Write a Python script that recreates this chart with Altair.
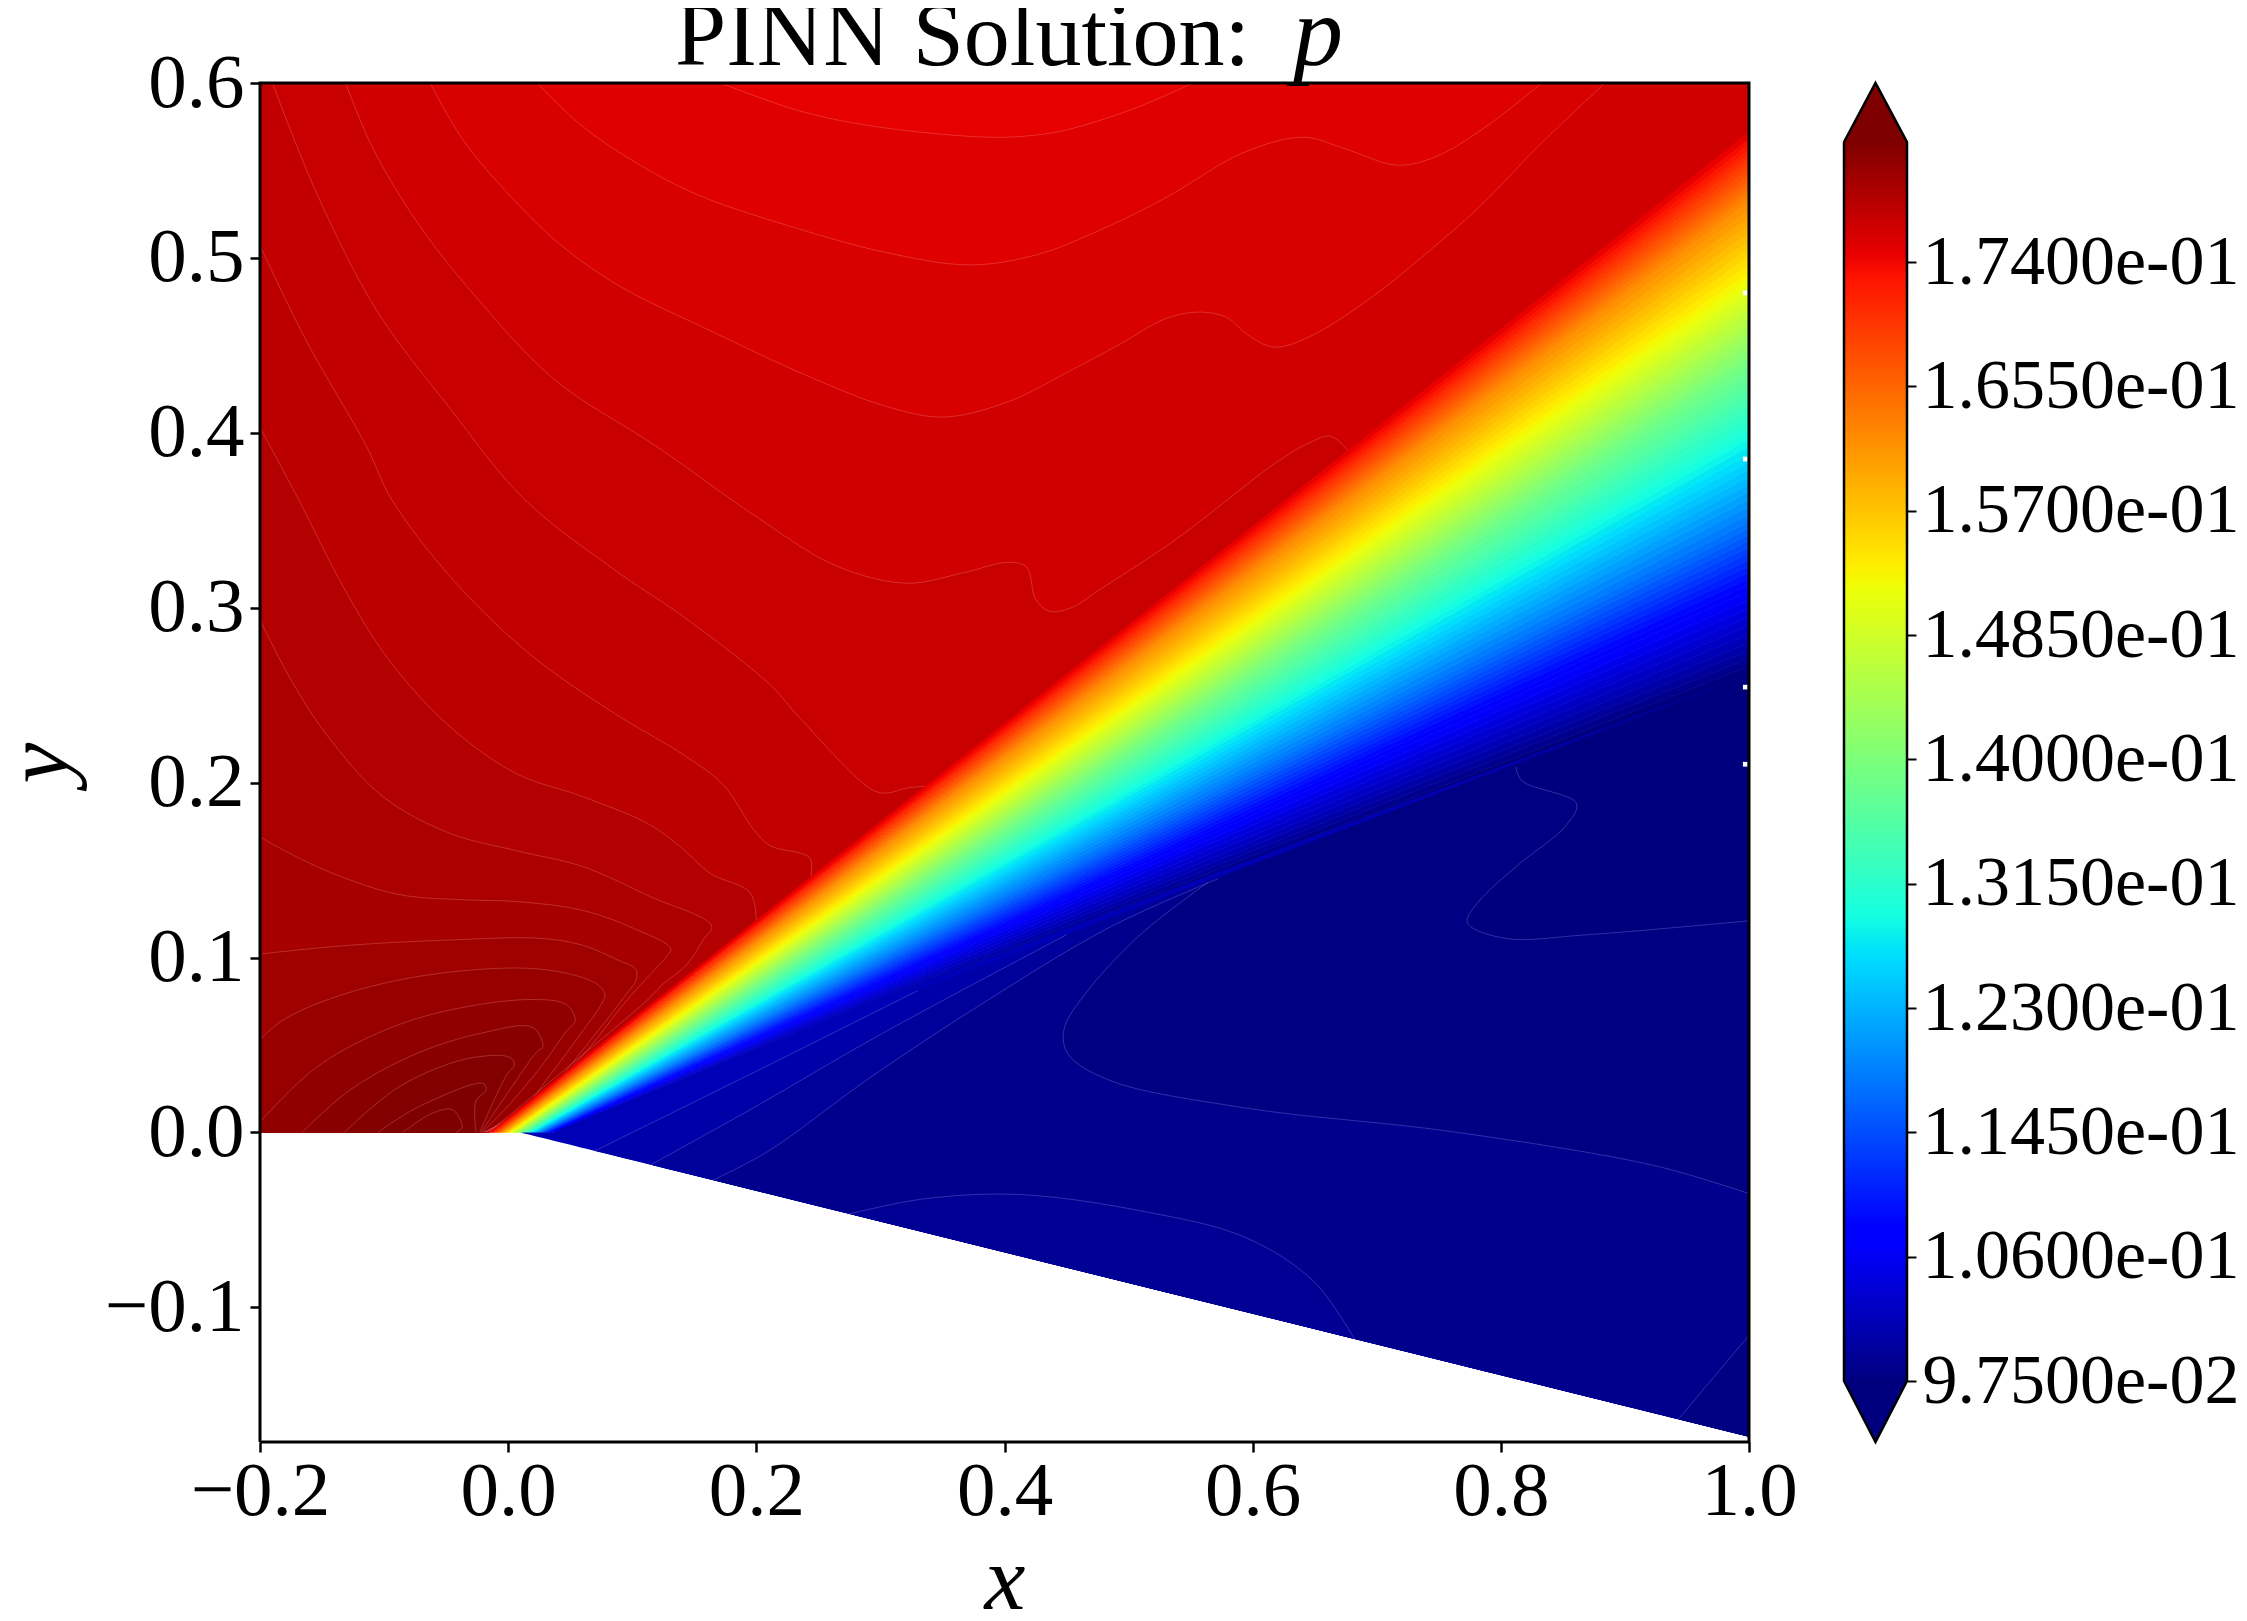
import altair as alt
import pandas as pd

XDOM = [-0.2, 1.0]
YDOM = [-0.177, 0.6]
CB_DOM = [0.09333, 0.18624]
CB_LOW, CB_HIGH = 0.0975, 0.1822
FONT = "Liberation Serif"
PW, PH = 1489, 1359
X_TICKS = [-0.2, 0.0, 0.2, 0.4, 0.6, 0.8, 1.0]
Y_TICKS = [-0.1, 0.0, 0.1, 0.2, 0.3, 0.4, 0.5, 0.6]
CB_TICKS = [0.0975, 0.106, 0.1145, 0.123, 0.1315, 0.14, 0.1485, 0.157, 0.1655, 0.174]

JET_T = [0, .11, .125, .34, .35, .375, .64, .65, .66, .89, .91, 1]
JET_C = ["#00007f", "#0000ff", "#0000ff", "#00dbff", "#00e5f7", "#14ffe2",
         "#eeff08", "#f7f600", "#ffec00", "#ff1300", "#e80000", "#7f0000"]
JET_P = [CB_LOW + t * (CB_HIGH - CB_LOW) for t in JET_T]

# upper region: iso-contours, brightest to darkest
TOP_CLOSE = [(1, .6), (1, .56), (-.015, 0), (-.2, 0), (-.2, .6)]
RAY_CLOSE = [(-.015, 0), (-.2, 0), (-.2, .6)]
FOOT_CLOSE = [(-.015, 0), (-.2, 0)]
LEFT_CLOSE = [(-.2, 0)]

BASE_UP = [(-.2, .6), (1, .6), (1, .56), (-.015, 0), (-.2, 0)]
C1 = [(.171, .6), (.235, .584), (.297, .575), (.387, .569), (.422, .570), (.449, .573), (.503, .585), (.552, .6)]
C2 = [(.0235, .6), (.0585, .576), (.104, .554), (.153, .536), (.223, .519), (.305, .503), (.373, .496), (.427, .502),
      (.471, .514), (.529, .534), (.592, .560), (.641, .569), (.672, .563), (.717, .553), (.748, .558), (.788, .575), (.833, .6)]
C3 = [(-.063, .6), (-.036, .567), (-.003, .539), (.038, .510), (.087, .485), (.161, .459), (.243, .432), (.305, .415),
      (.351, .409), (.404, .418), (.449, .434), (.494, .451), (.529, .465), (.556, .469), (.579, .466), (.596, .456),
      (.617, .449), (.646, .455), (.695, .477), (.739, .502), (.784, .530), (.829, .563), (.884, .6)]
C4 = [(-.131, .6), (-.110, .564), (-.073, .520), (-.024, .476), (.038, .430), (.120, .392), (.202, .351), (.264, .324),
      (.321, .314), (.367, .320), (.404, .326), (.418, .323), (.425, .305), (.436, .298), (.454, .300), (.476, .310),
      (.538, .339), (.619, .383), (.645, .394), (.663, .398), (.68, .387)]
C5 = [(-.190, .6), (-.155, .538), (-.106, .470), (-.048, .415), (.013, .362), (.087, .321), (.141, .295), (.211, .256),
      (.235, .237), (.293, .196), (.305, .194), (.322, .197), (.34, .198)]
LA = [(-.2, .507), (-.163, .453), (-.114, .392), (-.094, .362), (-.042, .314), (.020, .272), (.087, .239), (.141, .216),
      (.173, .199), (.198, .173), (.211, .164), (.243, .157), (.245, .146), (.25, .147)]
LB = [(-.2, .403), (-.169, .362), (-.133, .312), (-.096, .270), (-.047, .232), (.007, .205), (.060, .192), (.114, .176),
      (.141, .162), (.163, .148), (.195, .137), (.2, .12)]
LC = [(-.2, .293), (-.176, .260), (-.147, .228), (-.101, .192), (-.047, .171), (.007, .161), (.060, .152), (.114, .135),
      (.164, .118), (.157, .110), (.144, .096), (.125, .085), (.111, .075), (-.016, 0)]
LD = [(-.2, .169), (-.18, .161), (-.141, .148), (-.088, .136), (-.036, .133), (.007, .132), (.060, .127), (.100, .117),
      (.131, .105), (.127, .100), (.114, .090), (.095, .075), (.06, .044), (.02, .016), (-.018, 0)]
LE = [(-.2, .102), (-.128, .107), (-.047, .110), (.025, .111), (.060, .107), (.087, .099), (.103, .093), (.103, .087),
      (.095, .079), (.07, .056), (.03, .023), (-.019, 0)]
LF = [(-.2, .053), (-.182, .064), (-.141, .077), (-.074, .089), (.007, .094), (.047, .091), (.071, .085), (.078, .079),
      (.074, .072), (.060, .058), (.035, .034), (.01, .012), (-.02, 0)]
LG = [(-.2, .006), (-.155, .037), (-.101, .058), (-.047, .070), (.020, .076), (.047, .073), (.054, .064), (.047, .058),
      (.028, .039), (.001, .016), (-.021, 0)]
LH = [(-.166, 0), (-.128, .024), (-.074, .045), (-.020, .057), (.020, .060), (.028, .049), (.023, .046), (.001, .024), (-.022, 0)]
LI = [(-.132, 0), (-.088, .026), (-.034, .042), (.001, .043), (.005, .039), (-.002, .032), (-.023, 0)]
LJ = [(-.105, 0), (-.074, .014), (-.020, .028), (-.018, .024), (-.026, .018), (-.026, 0)]
LK = [(-.085, 0), (-.061, .011), (-.045, .013), (-.037, .003), (-.042, 0)]

# lower region
R = [(1, .262), (1, -.174)]
L0 = [(.01, 0), (1, -.174), (1, .262), (.6, .156), (.3, .0765), (.037, 0)]
D0B = [(.07, -.0105), (.2, .035), (.33, .081)]
D0A = [(.115, -.0185), (.2, .015), (.3, .056), (.45, .113)]
D1 = [(.165, -.0272), (.209, -.011), (.291, .031), (.374, .070), (.484, .117), (.572, .145)]
D3 = [(.564, .143), (.511, .114), (.467, .081), (.448, .059), (.451, .045), (.484, .030), (.594, .014), (.759, .0006),
      (.924, -.019), (1, -.035)]
D2 = [(.812, .209), (.817, .201), (.861, .188), (.852, .175), (.814, .153), (.781, .131), (.773, .120), (.803, .111),
      (.869, .113), (1, .121)]
D4 = [(.275, -.0466), (.335, -.038), (.412, -.0355), (.511, -.045), (.594, -.060), (.649, -.085), (.682, -.1181)]
D5 = [(.943, -.164), (1, -.116)]

# expansion fan between the two edges: level, y of the level at x = 1, foot of the level on y = 0
FAN_P = [.0975, .0985, .0995, .1005, .1015, .1025, .1035, .1045, .1055, .1065,
         .1075, .1085, .1095, .1105, .1115, .1125, .1135, .1145, .1155, .1165,
         .1175, .1185, .1195, .1205, .1215, .1225, .1235, .1245, .1255, .1265,
         .1275, .1285, .1295, .1305, .1315, .1325, .1335, .1345, .1355, .1365,
         .1375, .1385, .1395, .1405, .1415, .1425, .1435, .1445, .1455, .1465,
         .1475, .1485, .1495, .1505, .1515, .1525, .1535, .1545, .1555, .1565,
         .1575, .1585, .1595, .1605, .1615, .1625, .1635, .1645, .1655, .1665,
         .1675, .1685, .1695, .1705, .1715, .1725, .1735, .1745]
FAN_Y = [.2620, .2665, .2710, .2755, .2800, .2850, .2899, .2948, .2997, .3046,
         .3095, .3131, .3167, .3203, .3239, .3275, .3311, .3347, .3383, .3419,
         .3455, .3491, .3534, .3577, .3620, .3663, .3706, .3749, .3792, .3835,
         .3878, .3921, .3964, .4007, .4050, .4093, .4136, .4179, .4222, .4265,
         .4308, .4351, .4394, .4431, .4468, .4505, .4542, .4579, .4616, .4653,
         .4690, .4727, .4764, .4801, .4838, .4875, .4920, .4965, .5010, .5055,
         .5100, .5145, .5190, .5235, .5280, .5325, .5355, .5385, .5415, .5445,
         .5475, .5505, .5535, .5565, .5595, .5625, .5655, .5685, .5720]
FAN_X0 = [.040, .039, .039, .038, .037, .037, .036, .035, .034, .034,
          .033, .032, .032, .031, .030, .030, .029, .028, .027, .027,
          .026, .025, .025, .024, .023, .022, .022, .021, .020, .020,
          .019, .018, .018, .017, .016, .015, .015, .014, .013, .013,
          .012, .011, .011, .010, .009, .008, .008, .007, .006, .006,
          .005, .004, .004, .003, .002, .001, .001, .000, -.001, -.001,
          -.002, -.003, -.003, -.004, -.005, -.006, -.006, -.007, -.008, -.008,
          -.009, -.010, -.010, -.011, -.012, -.013, -.013, -.014, -.015]

DOT_Y = [.48, .385, .2546, .2105]
FRAME = [(XDOM[0], YDOM[0]), (XDOM[1], YDOM[0]), (XDOM[1], YDOM[1]), (XDOM[0], YDOM[1]), (XDOM[0], YDOM[0])]


def sharp(pts):
    # a point given three times stays a corner under the smooth curve
    return [q for q in pts for _ in range(3)]


def region(contour, close):
    return sharp(contour[:1]) + contour + sharp(contour[-1:]) + sharp(close)


def table(polys):
    rows = []
    for b, (p, pts) in enumerate(polys):
        for i, (x, y) in enumerate(pts):
            rows.append({"band": b, "i": i, "x": x, "y": y, "p": p})
    return pd.DataFrame(rows)


UPPER = [
    (.1747, sharp(BASE_UP)), (.1752, region(C1, TOP_CLOSE)), (.1757, region(C2, TOP_CLOSE)), (.1763, region(C3, TOP_CLOSE)),
    (.1768, region(C4, RAY_CLOSE)), (.1773, region(C5, RAY_CLOSE)), (.1778, region(LA, FOOT_CLOSE)),
    (.1784, region(LB, FOOT_CLOSE)), (.1789, region(LC, LEFT_CLOSE)), (.1794, region(LD, LEFT_CLOSE)),
    (.1799, region(LE, LEFT_CLOSE)), (.1804, region(LF, LEFT_CLOSE)), (.1810, region(LG, LEFT_CLOSE)),
    (.1815, region(LH, [])), (.1820, region(LI, [])), (.1825, region(LJ, [])), (.1830, region(LK, [])),
]
LOWER = [(.1015, sharp(L0)), (.1005, region(D0B, R)), (.0995, region(D0A, R)), (.0985, region(D1, R)),
         (.0978, region(D3, [(1, .262)])), (.0970, region(D2, [(1, .262)])), (.0990, region(D4, [])),
         (.0978, region(D5, [(1, -.174)]))]
UP_LINES = [C1, C2, C3, C4, C5, LA, LB, LC, LD, LE, LF, LG, LH, LI, LJ, LK]
LOW_LINES = [D0B, D0A, D1, D3, D2, D4, D5]

fan = []
for k, p in enumerate(FAN_P):
    fan.append((p, [(FAN_X0[k], 0), (1, FAN_Y[k]), (1, FAN_Y[k + 1]), (FAN_X0[k + 1], 0)]))

jet = alt.Scale(domain=JET_P, range=JET_C, interpolate="rgb", clamp=True)
xs = alt.Scale(domain=XDOM, nice=False, zero=False)
ys = alt.Scale(domain=YDOM, nice=False, zero=False)
x_axis = alt.Axis(values=X_TICKS, format=".1f", grid=False, domain=False, title="x", titleFontStyle="italic",
                  titleFont=FONT, titleFontSize=92, titleFontWeight="normal", titleColor="black",
                  labelFont=FONT, labelFontSize=77, labelColor="black", labelPadding=1, tickSize=10,
                  tickWidth=2.5, tickColor="black", titlePadding=6, labelFlush=False, labelOverlap=False)
y_axis = alt.Axis(values=Y_TICKS, format=".1f", grid=False, domain=False, title="y", titleFontStyle="italic",
                  titleFont=FONT, titleFontSize=92, titleFontWeight="normal", titleColor="black",
                  labelFont=FONT, labelFontSize=77, labelColor="black", labelPadding=6, tickSize=10,
                  tickWidth=2.5, tickColor="black", titlePadding=18, labelOverlap=False)
X = alt.X("x:Q", scale=xs, axis=x_axis)
Y = alt.Y("y:Q", scale=ys, axis=y_axis)


def fills(polys_):
    return alt.Chart(table(polys_)).mark_line(strokeWidth=0, interpolate="catmull-rom").encode(
        x=X, y=Y, detail="band:N", order="i:Q", fill=alt.Fill("p:Q", scale=jet, legend=None))


def lines(paths, colour):
    return alt.Chart(table([(0, sharp(c[:1]) + c + sharp(c[-1:])) for c in paths])).mark_line(
        strokeWidth=0.8, stroke=colour, interpolate="catmull-rom").encode(
        x=X, y=Y, detail="band:N", order="i:Q")


upper = fills(UPPER)
lower = fills(LOWER)
up_lines = lines(UP_LINES, "rgba(255,190,190,0.30)")
low_lines = lines(LOW_LINES, "rgba(170,170,255,0.35)")
fan_l = alt.Chart(table(fan)).mark_line(strokeWidth=0.7).encode(
    x=X, y=Y, detail="band:N", order="i:Q",
    fill=alt.Fill("p:Q", scale=jet, legend=None),
    stroke=alt.Stroke("p:Q", scale=jet, legend=None),
)
dots = alt.Chart(pd.DataFrame({"x": [.997] * len(DOT_Y), "y": DOT_Y})).mark_square(
    color="white", size=22, opacity=1).encode(x=X, y=Y)
frame = alt.Chart(table([(0, FRAME)])).mark_line(stroke="black", strokeWidth=3).encode(x=X, y=Y, order="i:Q")
title_a = alt.Chart(pd.DataFrame({"t": ["PINN Solution:"]})).mark_text(
    font=FONT, fontSize=92, align="left", baseline="alphabetic", color="black").encode(
    text="t:N", x=alt.value(415), y=alt.value(-18))
title_b = alt.Chart(pd.DataFrame({"t": ["p"]})).mark_text(
    font=FONT, fontSize=100, fontStyle="italic", align="left", baseline="alphabetic", color="black").encode(
    text="t:N", x=alt.value(1033), y=alt.value(-18))

main = alt.layer(upper, up_lines, fan_l, lower, low_lines, dots, frame, title_a, title_b).properties(width=PW, height=PH)

# colour bar
cx = alt.Scale(domain=[0, 1], nice=False, zero=False)
cy = alt.Scale(domain=CB_DOM, nice=False, zero=False)
cb_axis = alt.Axis(orient="right", values=CB_TICKS, grid=False, domain=False, title=None,
                   labelExpr="replace(format(datum.value,'.4e'),'e-','e-0')", labelLimit=0,
                   labelFont=FONT, labelFontSize=70, labelColor="black", labelPadding=6, tickSize=9,
                   tickWidth=2, tickColor="black", labelOverlap=False)
no_x = alt.X("x:Q", scale=cx, axis=None)
grad = alt.Gradient(gradient="linear", x1=0, x2=0, y1=1, y2=0,
                    stops=[alt.GradientStop(offset=t, color=c) for t, c in zip(JET_T, JET_C)])
bar = alt.Chart(pd.DataFrame({"x": [0], "x2": [1], "y": [CB_LOW], "y2": [CB_HIGH]})).mark_rect(fill=grad).encode(
    x=no_x, x2="x2:Q", y=alt.Y("y:Q", scale=cy, axis=cb_axis), y2="y2:Q")
arrows = table([(CB_HIGH + .002, [(0, CB_HIGH), (.5, CB_DOM[1]), (1, CB_HIGH)]),
                (CB_LOW - .002, [(0, CB_LOW), (.5, CB_DOM[0]), (1, CB_LOW)])])
arrow_l = alt.Chart(arrows).mark_line(strokeWidth=0.5).encode(
    x=no_x, y=alt.Y("y:Q", scale=cy, axis=cb_axis), detail="band:N", order="i:Q",
    fill=alt.Fill("p:Q", scale=jet, legend=None), stroke=alt.Stroke("p:Q", scale=jet, legend=None))
outline_pts = [(0, CB_HIGH), (.5, CB_DOM[1]), (1, CB_HIGH), (1, CB_LOW), (.5, CB_DOM[0]), (0, CB_LOW), (0, CB_HIGH)]
outline = alt.Chart(table([(0, outline_pts)])).mark_line(stroke="black", strokeWidth=2.5).encode(
    x=no_x, y=alt.Y("y:Q", scale=cy, axis=cb_axis), order="i:Q")
cbar = alt.layer(bar, arrow_l, outline).properties(width=63, height=PH, view=alt.ViewConfig(stroke=None))

chart = alt.hconcat(main, cbar, spacing=41).resolve_scale(fill="independent", stroke="independent").properties(
    padding={"left": -15, "top": -23, "right": 0, "bottom": 0}, background="white"
).configure_view(stroke=None)

chart.save("out.html", embed_options={"renderer": "svg", "actions": False})
